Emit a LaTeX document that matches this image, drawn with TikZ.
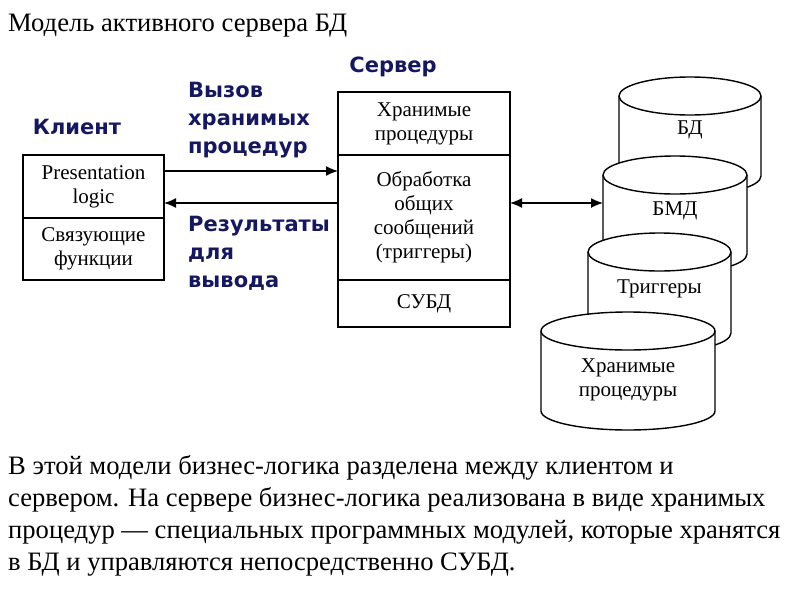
\documentclass[tikz,border=0pt]{standalone}
\usepackage{fontspec}
\setmainfont{Liberation Serif}
\newfontfamily\tagfamily{DejaVu Sans}
\usetikzlibrary{arrows.meta,calc,positioning}
\definecolor{navy}{RGB}{22,24,94}
\tikzset{
part/.style={
  draw,
  line width=1.6pt,
  outer sep=0pt,
  inner sep=0pt,
  align=center,
  font=\fontsize{21}{24}\selectfont,
  }
}
\tikzset{
tag/.style={
  text=navy,
  inner sep=0pt,
  align=left,
  font=\tagfamily\bfseries\fontsize{21}{28}\selectfont,
  }
}
\tikzset{
link/.style={
  line width=1.4pt,
  -{Latex[length=12pt,width=10pt]}
  }
}
\tikzset{
drum/.style={
  draw,
  line width=1.4pt,
  fill=white,
  }
}
% name, left, right, top, bottom, text y, text
\newcommand{\drum}[7]{
  \draw[drum] (#2,-#4-19) -- (#2,-#5+19)
    arc[start angle=180, end angle=360, x radius={(#3-#2)/2}, y radius=19]
    -- (#3,-#4-19)
    arc[start angle=0, end angle=180, x radius={(#3-#2)/2}, y radius=19] -- cycle;
  \draw[line width=1.4pt] (#2,-#4-19)
    arc[start angle=180, end angle=360, x radius={(#3-#2)/2}, y radius=19];
  \node[part, draw=none] (#1) at ({(#2+#3)/2},-#6) {#7};
}

\begin{document}
\begin{tikzpicture}[x=1pt,y=1pt]
    \useasboundingbox (0,0) rectangle (800,-600);

    % title
    \node[anchor=base west, inner sep=0pt, font=\fontsize{26.6}{32}\selectfont] (title) at (8,-31) {Модель активного сервера БД};

    % client part
    \node[tag] (cl_lbl) at (77,-127) {Клиент};
    \node[part, minimum width=141pt, minimum height=63pt] (pl) at (93.5,-186.5) {Presentation\\logic};
    \node[part, minimum width=141pt, minimum height=62pt, below=0pt of pl] (fn) {Связующие\\функции};

    % server part
    \node[tag] (sv_lbl) at (393,-67) {Сервер};
    \node[part, minimum width=172pt, minimum height=63pt] (sp) at (424,-123.5) {Хранимые\\процедуры};
    \node[part, minimum width=172pt, minimum height=125pt, below=0pt of sp] (msg) {Обработка\\общих\\сообщений\\(триггеры)};
    \node[part, minimum width=172pt, minimum height=47pt, below=0pt of msg] (dbms) {СУБД};

    % call labels
    \node[tag, anchor=west] (call) at (188,-120) {Вызов\\хранимых\\процедур};
    \node[tag, anchor=west] (res) at (188,-253) {Результаты\\для\\вывода};

    % storage part
    \drum{db}{619}{761}{77}{195}{130}{БД}
    \drum{bmd}{603}{747}{156}{273}{211}{БМД}
    \drum{trg}{588}{731}{233}{352}{289}{Триггеры}
    \drum{proc}{541}{715}{312}{430}{380}{Хранимые\\процедуры}
    \coordinate (bmd_w) at (603,-203);

    % edges
    \draw[link] ([yshift=15.5pt]pl.east) -- ([yshift=15.5pt]pl.east -| msg.west);
    \draw[link] ([yshift=-16.5pt]pl.east -| msg.west) -- ([yshift=-16.5pt]pl.east);
    \draw[link, {Latex[length=12pt,width=10pt]}-{Latex[length=12pt,width=10pt]}] (msg.east |- bmd_w) -- (bmd_w);

    % text
    \node[anchor=north west, inner sep=0pt, align=left, font=\fontsize{26.6}{32}\selectfont] (txt) at (8,-455) {В этой модели бизнес-логика разделена между клиентом и\\сервером. На сервере бизнес-логика реализована в виде хранимых\\процедур — специальных программных модулей, которые хранятся\\в БД и управляются непосредственно СУБД.};
\end{tikzpicture}
\end{document}
